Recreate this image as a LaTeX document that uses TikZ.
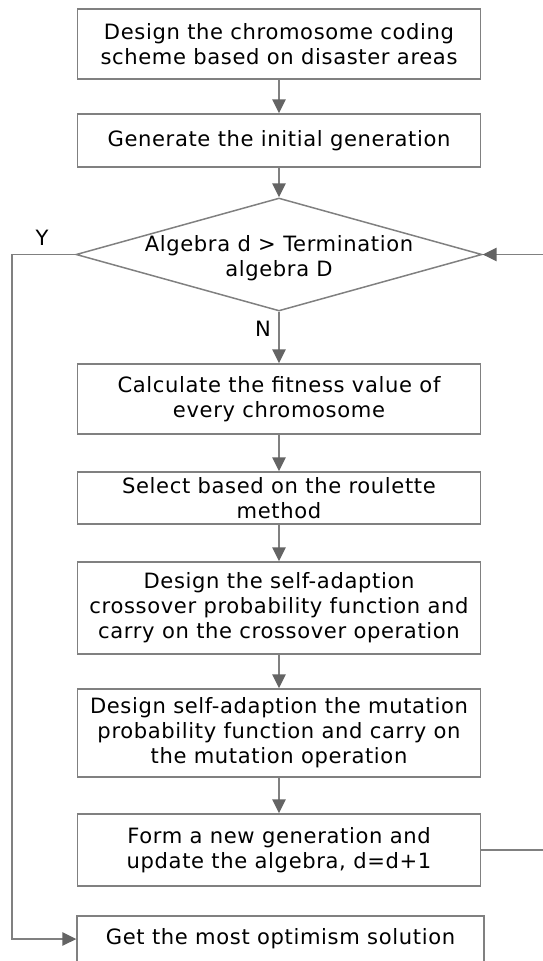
\documentclass[tikz,border=0pt]{standalone}
\usepackage{fontspec}
\setmainfont{DejaVu Sans}[LetterSpace=3]
\usetikzlibrary{shapes,arrows.meta,calc}
\definecolor{linegray}{RGB}{128,128,128}
\definecolor{tipgray}{RGB}{100,100,100}
\tikzset{
  box/.style={draw=linegray,line width=0.85pt,minimum width=8.06cm,inner sep=0pt,align=center},
  flow/.style={draw=linegray,line width=0.85pt,-{Triangle[width=0.27cm,length=0.28cm,color=tipgray]}}
}

\begin{document}
\begin{tikzpicture}[x=0.02cm,y=-0.02cm,font=\fontsize{12}{14.3}\selectfont]
\useasboundingbox (0,0) rectangle (542,961);
\node (code) at (279,44) [box,minimum height=1.4cm] {Design the chromosome coding\\scheme based on disaster areas};
\node (init) at (279,140.5) [box,minimum height=1.06cm] {Generate the initial generation};
\node (judge) at (279,254.5) [diamond,draw=linegray,line width=0.85pt,minimum width=8.12cm,minimum height=2.26cm,inner sep=0pt,
  label={[align=center,yshift=-2pt]center:Algebra d > Termination\\algebra D}] {};
\node (fit) at (279,399) [box,minimum height=1.4cm] {Calculate the fitness value of\\every chromosome};
\node (sel) at (279,498) [box,minimum height=1.04cm] {Select based on the roulette\\method};
\node (cross) at (279,608) [box,minimum height=1.84cm] {Design the self-adaption\\crossover probability function and\\carry on the crossover operation};
\node (mut) at (279,733) [box,minimum height=1.76cm] {Design self-adaption the mutation\\probability function and carry on\\the mutation operation};
\node (new) at (279,850) [box,minimum height=1.44cm] {Form a new generation and\\update the algebra, d=d+1};
\node (best) at (280.5,939) [box,minimum width=8.14cm,minimum height=0.92cm] {Get the most optimism solution};
\node (yes) at (42,238) {Y};
\node (no) at (263,329) {N};
\coordinate (ybend) at (12,254.5);
\coordinate (back) at (547,850);
\draw [flow] (code) -- (init);
\draw [flow] (init) -- (judge);
\draw [flow] (judge) -- (fit);
\draw [flow] (fit) -- (sel);
\draw [flow] (sel) -- (cross);
\draw [flow] (cross) -- (mut);
\draw [flow] (mut) -- (new);
\draw [flow] (judge.west) -- (ybend) |- (best.west);
\draw [flow] (new.east) -- (back) |- (judge.east);
\end{tikzpicture}
\end{document}
